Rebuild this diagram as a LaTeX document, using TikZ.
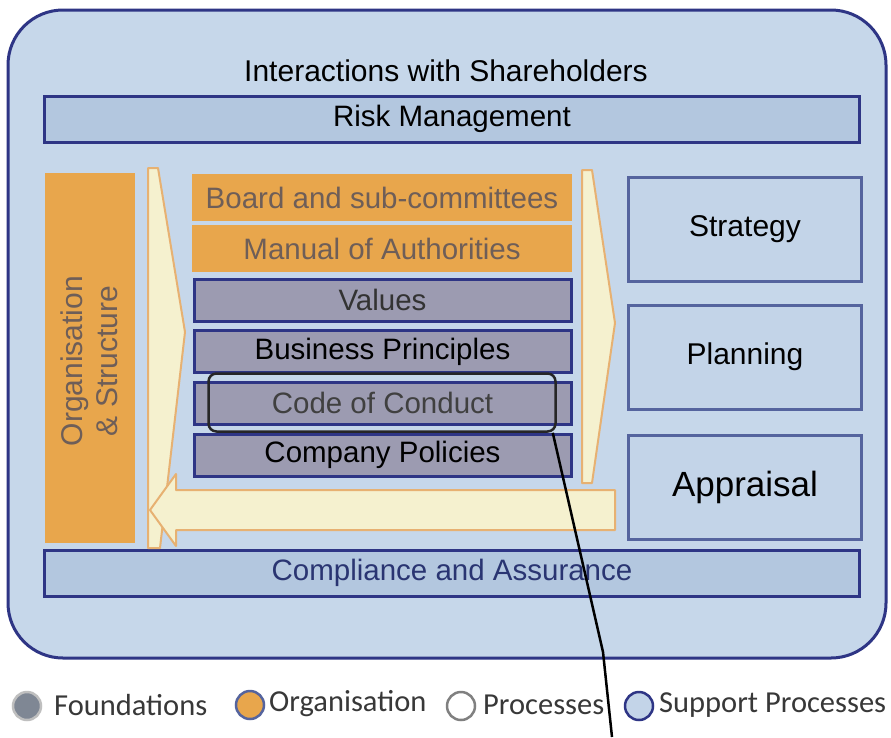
\documentclass[tikz,border=0pt]{standalone}
\usepackage{fontspec}
\setmainfont{Liberation Sans}
\newfontfamily\legendfont{Carlito}
\definecolor{navy}{HTML}{2E3585}
\definecolor{outerblue}{HTML}{C6D7EA}
\definecolor{barblue}{HTML}{B3C7DF}
\definecolor{boxblue}{HTML}{C3D4E8}
\definecolor{boxedge}{HTML}{55649E}
\definecolor{orangef}{HTML}{E8A64C}
\definecolor{grayf}{HTML}{9C9BB1}
\definecolor{chevfill}{HTML}{F5F1CF}
\definecolor{chevedge}{HTML}{E7B172}
\definecolor{orgtext}{HTML}{6E5E58}
\definecolor{legtext}{HTML}{383838}
\definecolor{legdotgray}{HTML}{7F8794}
\definecolor{compl}{HTML}{2A3572}
\begin{document}
\begin{tikzpicture}[x=1pt,y=-1pt,
  bar/.style={draw=navy,line width=3pt,fill=barblue,minimum width=815pt,minimum height=46pt,inner sep=0pt,font=\fontsize{29.5}{34}\selectfont},
  orgbox/.style={fill=orangef,minimum width=380pt,minimum height=47pt,inner sep=0pt,text=orgtext,font=\fontsize{29.5}{34}\selectfont},
  foundbox/.style={draw=navy,line width=3pt,fill=grayf,minimum width=377pt,minimum height=42pt,inner sep=0pt,font=\fontsize{29.5}{34}\selectfont},
  procbox/.style={draw=boxedge,line width=3pt,fill=boxblue,minimum width=233pt,minimum height=104pt,inner sep=0pt,font=\fontsize{30}{34}\selectfont},
  chev/.style={fill=chevfill,draw=chevedge,line width=2pt,line join=round},
  legdot/.style={circle,minimum size=28pt,inner sep=0pt,line width=2.5pt},
  legtxt/.style={anchor=west,inner sep=0pt,text=legtext,font=\legendfont\fontsize{30.5}{36}\selectfont}
]
\path[use as bounding box,fill=white] (0,0) rectangle (891,737);
% outer frame
\draw[rounded corners=55pt,fill=outerblue,draw=navy,line width=3pt] (8,10) rectangle (886,658);
\node[inner sep=0pt,font=\fontsize{30}{34}\selectfont] (title) at (446,71) {Interactions with Shareholders};
\node[bar] (risk) at (452,119) {Risk Management};
\node[bar,text=compl] (compliance) at (452,573) {Compliance and Assurance};
% arrows
\draw[chev] (148,168) -- (158,168) -- (185,332) -- (160,548) -- (148,548) -- cycle;
\draw[chev] (582,170) -- (592,170) -- (615,323) -- (592,483) -- (582,483) -- cycle;
\draw[chev] (615,490) -- (176,490) -- (176,474) -- (150,510) -- (176,546) -- (176,530) -- (615,530) -- cycle;
% organisation column
\node[fill=orangef,minimum width=90pt,minimum height=370pt,inner sep=0pt] (org) at (90,358) {};
\node[rotate=90,align=center,text=orgtext,font=\fontsize{30}{35}\selectfont] (orgtxt) at (89,361) {Organisation\\\& Structure};
% centre stack
\node[orgbox] (board) at (382,197.5) {Board and sub-committees};
\node[orgbox] (manual) at (382,248.5) {Manual of Authorities};
\node[foundbox,text=black!80] (values) at (382.5,300) {Values};
\node[foundbox,text=black] (business) at (382.5,351.5) {Business Principles};
\node[foundbox,text=black!75] (code) at (382.5,403) {Code of Conduct};
\node[foundbox,text=black] (company) at (382.5,455) {Company Policies};
% right processes
\node[procbox] (strategy) at (745,229) {Strategy};
\node[procbox] (planning) at (745,357) {Planning};
\node[procbox,font=\fontsize{35}{40}\selectfont] (appraisal) at (745,487) {Appraisal};
% highlight and pointer
\node[draw=black!85,line width=2.5pt,rounded corners=8pt,minimum width=347pt,minimum height=58pt,inner sep=0pt] (hl) at (382,402.5) {};
\coordinate (bend) at (603,652);
\coordinate (tail) at (612,737);
\draw[line width=2.5pt,black] ([xshift=-4pt]hl.south east) -- (bend) -- (tail);
% legend
\node[legdot,fill=legdotgray,draw=gray!50] (lg1) at (27,706) {};
\node[legtxt] (lt1) at (54,705) {Foundations};
\node[legdot,fill=orangef,draw=boxedge] (lg2) at (250,705) {};
\node[legtxt] (lt2) at (269,704) {Organisation};
\node[legdot,fill=white,draw=gray] (lg3) at (461,706) {};
\node[legtxt] (lt3) at (483,705) {Processes};
\node[legdot,fill=boxblue,draw=navy] (lg4) at (639,706) {};
\node[legtxt] (lt4) at (659,705) {Support Processes};
\end{tikzpicture}
\end{document}
